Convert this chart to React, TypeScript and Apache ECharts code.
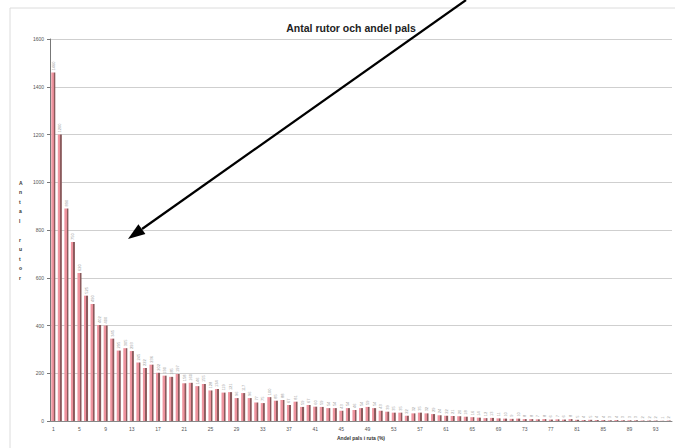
import React, { useEffect, useRef } from "react";
import * as echarts from "echarts";

const titleText = "Antal rutor och andel pals";
const xAxisTitle = "Andel pals i ruta (%)";
const yAxisTitle = "Antal rutor";

const categories: string[] = Array.from({ length: 95 }, (_, i) => String(i + 1));

const counts: number[] = [
  1460, 1200, 890, 750, 620, 525, 490, 402, 400, 345,
  295, 305, 293, 245, 222, 236, 202, 190, 185, 197,
  158, 160, 146, 155, 128, 134, 119, 121, 96, 117,
  96, 77, 75, 100, 85, 88, 67, 81, 59, 67,
  60, 59, 54, 54, 43, 54, 46, 54, 59, 54,
  43, 39, 35, 35, 22, 32, 35, 32, 29, 24,
  22, 21, 20, 18, 16, 14, 12, 13, 11, 10,
  9, 10, 8, 8, 7, 8, 6, 7, 6, 8,
  5, 4, 5, 4, 4, 3, 4, 3, 3, 3,
  2, 2, 2, 1, 2,
];

const yTicks = { min: 0, max: 1600, interval: 200 };

export default function App() {
  const ref = useRef<HTMLDivElement>(null);
  useEffect(() => {
    if (!ref.current) return;
    const chart = echarts.init(ref.current, null, { renderer: "svg" });
    chart.setOption({
      animation: false,
      backgroundColor: "#ffffff",
      title: {
        text: titleText,
        left: 346,
        top: 17,
        textAlign: "center",
        textStyle: { fontFamily: "Liberation Sans", fontSize: 10.5, fontWeight: "bold", color: "#222" },
      },
      grid: { left: 50, right: 3, top: 39, bottom: 27, containLabel: false },
      xAxis: {
        type: "category",
        data: categories,
        name: xAxisTitle,
        nameLocation: "middle",
        nameGap: 14,
        nameTextStyle: { fontFamily: "Liberation Sans", fontSize: 5, fontWeight: "bold", color: "#333" },
        axisLine: { lineStyle: { color: "#888", width: 1 } },
        axisTick: { show: false },
        axisLabel: { interval: 3, fontSize: 5, color: "#555", margin: 5, fontFamily: "Liberation Sans" },
      },
      yAxis: {
        type: "value",
        min: yTicks.min,
        max: yTicks.max,
        interval: yTicks.interval,
        axisLine: { show: true, lineStyle: { color: "#777", width: 1 } },
        axisTick: { show: true, length: 3, lineStyle: { color: "#777" } },
        axisLabel: {
          fontSize: 5,
          color: "#555",
          margin: 6,
          fontFamily: "Liberation Sans",
          formatter: (v: number) => String(v),
        },
        splitLine: { lineStyle: { color: "#cfcfcf", width: 1 } },
      },
      series: [
        {
          type: "bar",
          data: counts,
          barWidth: "62%",
          itemStyle: {
            color: {
              type: "linear",
              x: 0, y: 0, x2: 1, y2: 0,
              colorStops: [
                { offset: 0, color: "#f09aa4" },
                { offset: 0.55, color: "#ec8f9a" },
                { offset: 0.6, color: "#8a5a5c" },
                { offset: 1, color: "#8a5a5c" },
              ],
            },
          },
          label: {
            show: true,
            position: "top",
            rotate: 90,
            align: "left",
            verticalAlign: "middle",
            distance: 2,
            fontSize: 4,
            color: "#9a9a9a",
            fontFamily: "Liberation Sans",
          },
        },
      ],
      graphic: [
        {
          type: "rect",
          shape: { x: 10, y: 8, width: 670, height: 445 },
          style: { fill: "none", stroke: "#dcdcdc", lineWidth: 1 },
          silent: true,
        },
        {
          type: "text",
          left: 19,
          top: 178,
          style: {
            text: yAxisTitle.split("").join("\n"),
            fontSize: 5,
            fontWeight: "bold",
            lineHeight: 9.5,
            fill: "#333333",
            fontFamily: "Liberation Sans",
            align: "center",
          },
        },
        {
          type: "line",
          shape: { x1: 466, y1: 0, x2: 142, y2: 229 },
          style: { stroke: "#000", lineWidth: 2.2 },
          z: 100,
        },
        {
          type: "polygon",
          shape: { points: [[128, 239], [138.4, 224.3], [145.4, 234.1]] },
          style: { fill: "#000" },
          z: 100,
        },
      ],
    });
    return () => chart.dispose();
  }, []);
  return (
    <div
      ref={ref}
      style={{ position: "fixed", left: 0, top: 0, width: 675, height: 448 }}
    />
  );
}
